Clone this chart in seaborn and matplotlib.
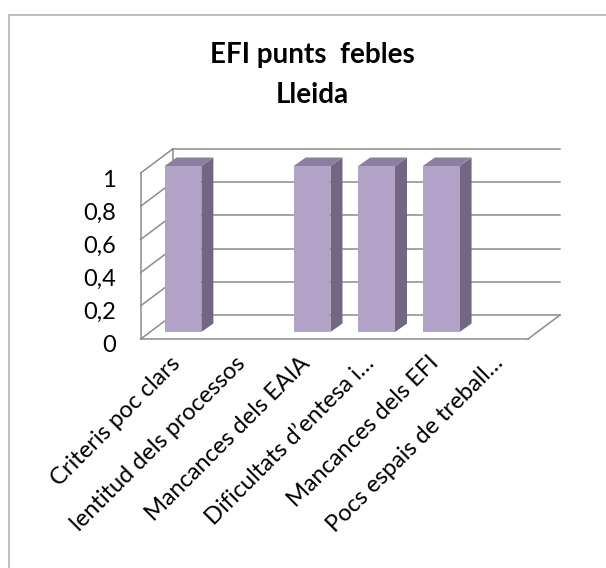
import matplotlib
matplotlib.use("Agg")
import matplotlib.pyplot as plt
import seaborn as sns
from matplotlib.transforms import Affine2D, IdentityTransform
from matplotlib.patches import Polygon, Rectangle

# chart data
categories = ["Criteris poc clars", "lentitud dels processos", "Mancances dels EAIA",
              "Dificultats d\u2019entesa i\u2026", "Mancances dels EFI", "Pocs espais de treball\u2026"]
values = [1, 0, 1, 1, 1, 0]
yticks = [0, 0.2, 0.4, 0.6, 0.8, 1]
ytick_labels = ["0", "0,2", "0,4", "0,6", "0,8", "1"]

plt.rcParams["font.family"] = ["Lato", "DejaVu Sans"]

FRONT = "#B3A2C7"
SIDE = "#736682"
TOP = "#8C7EA0"
GRID = "#8C8C8C"

DX, DY = 32, 24      # depth of the 3d box (pixels)
BX, BY = 10, 7       # bar front offset from the front plane
SX, SY = 12, 8.5     # bar depth

fig = plt.figure(figsize=(6.06, 5.68), dpi=100)
ax = fig.add_axes([140.7 / 606, 1 - 339 / 568, (528 - 140.7) / 606, (339 - 173) / 568])

sns.barplot(x=categories, y=values, ax=ax, color=FRONT, saturation=1,
            width=0.57, linewidth=0, zorder=5)
ax.set_xlim(-0.5, len(categories) - 0.5)
ax.set_ylim(0, 1)
ax.autoscale(False)
for s in ax.spines.values():
    s.set_visible(False)
ax.patch.set_visible(False)
ax.set_xlabel("")
ax.set_ylabel("")

x_lo, x_hi = ax.get_xlim()
back = ax.transData + Affine2D().translate(DX, DY)


def disp(x, y):
    return ax.transData.transform((x, y))


def seg(p, q, **kw):
    ax.plot([p[0], q[0]], [p[1], q[1]], transform=IdentityTransform(),
            color=GRID, lw=1.1, clip_on=False, zorder=1, **kw)


# back wall gridlines
for t in yticks:
    ax.plot([x_lo, x_hi], [t, t], color=GRID, lw=1.1, transform=back,
            clip_on=False, zorder=1)

# left wall
for t in yticks:
    p = disp(x_lo, t)
    seg(p, (p[0] + DX, p[1] + DY))
seg(disp(x_lo, 0), disp(x_lo, 1))
p0, p1 = disp(x_lo, 0), disp(x_lo, 1)
seg((p0[0] + DX, p0[1] + DY), (p1[0] + DX, p1[1] + DY))

# floor
seg(disp(x_lo, 0), disp(x_hi, 0))
q = disp(x_hi, 0)
seg(q, (q[0] + DX, q[1] + DY))

# 3d bars
shift = Affine2D().translate(BX, BY)
for bar in list(ax.patches):
    bar.set_transform(ax.transData + shift)
    bar.set_clip_on(False)
    h = bar.get_height()
    if h <= 0:
        continue
    xl, xr = bar.get_x(), bar.get_x() + bar.get_width()
    (ax0, ay0), (ax1, ay1) = disp(xl, 0), disp(xr, h)
    ax0 += BX; ax1 += BX; ay0 += BY; ay1 += BY
    side = [(ax1, ay0), (ax1, ay1), (ax1 + SX, ay1 + SY), (ax1 + SX, ay0 + SY)]
    top = [(ax0, ay1), (ax1, ay1), (ax1 + SX, ay1 + SY), (ax0 + SX, ay1 + SY)]
    ax.add_patch(Polygon(side, closed=True, facecolor=SIDE, edgecolor="none",
                         transform=IdentityTransform(), clip_on=False, zorder=4))
    ax.add_patch(Polygon(top, closed=True, facecolor=TOP, edgecolor="none",
                         transform=IdentityTransform(), clip_on=False, zorder=4))

# axis labels
ax.set_yticks(yticks, ytick_labels, fontsize=17)
ax.tick_params(axis="y", length=0, pad=18)
for lab in ax.get_yticklabels():
    lab.set_transform(lab.get_transform() + Affine2D().translate(0, -5))

ax.set_xticks(range(len(categories)), categories, fontsize=17, rotation=45,
              ha="right", va="center", rotation_mode="anchor")
ax.tick_params(axis="x", length=0, pad=15)
for lab in ax.get_xticklabels():
    lab.set_transform(lab.get_transform() + Affine2D().translate(4, 0))

# title
fig.text(312 / 606, 1 - 63 / 568, "EFI punts  febles", ha="center", va="baseline",
         fontsize=20, fontweight="bold")
fig.text(312 / 606, 1 - 103 / 568, "Lleida", ha="center", va="baseline",
         fontsize=20, fontweight="bold")

# chart border
fig.add_artist(Rectangle((8.5 / 606, -1), 2, 1 + (1 - 15 / 568), fill=False,
                         edgecolor="#BFBFBF", lw=1.4, transform=fig.transFigure))

fig.savefig("out.png", dpi=100)
